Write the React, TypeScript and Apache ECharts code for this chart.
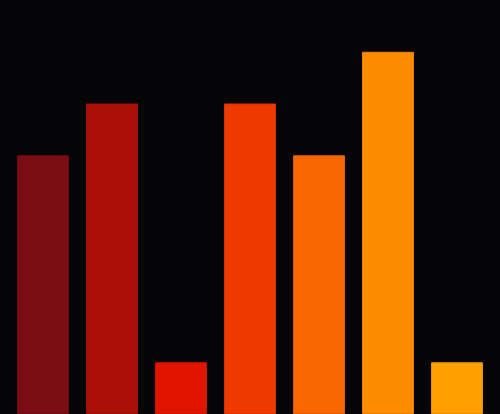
import React, { useEffect, useRef } from 'react';
import * as echarts from 'echarts';

const categories = ['A', 'B', 'C', 'D', 'E', 'F', 'G'];
const values = [5, 6, 1, 6, 5, 7, 1];
const barColors = ['#7a0e14', '#ab1008', '#e11400', '#ee3a00', '#f86600', '#ff8c00', '#ffa000'];
const borderColors = ['#6e0c12', '#9c0e07', '#cc1200', '#d93400', '#e25d00', '#e87f00', '#e89100'];

const App: React.FC = () => {
  const chartRef = useRef<HTMLDivElement>(null);

  useEffect(() => {
    document.body.style.margin = '0';
    document.body.style.background = '#050407';
    let chart: echarts.ECharts | undefined;
    if (chartRef.current) {
      chart = echarts.init(chartRef.current, undefined, { renderer: 'svg' });
      chart.setOption({
        animation: false,
        backgroundColor: '#050407',
        grid: { left: 8.5, right: 8.5, top: 0, bottom: 0 },
        xAxis: {
          type: 'category',
          data: categories,
          show: false
        },
        yAxis: {
          type: 'value',
          min: 0,
          max: 8,
          show: false
        },
        series: [
          {
            type: 'bar',
            barCategoryGap: '24.6%',
            data: values.map((v, i) => ({
              value: v,
              itemStyle: { color: barColors[i], borderColor: borderColors[i], borderWidth: 1 }
            }))
          }
        ]
      });
    }
    return () => {
      chart?.dispose();
    };
  }, []);

  return <div ref={chartRef} style={{ width: '500px', height: '414px' }}></div>;
};

export default App;
